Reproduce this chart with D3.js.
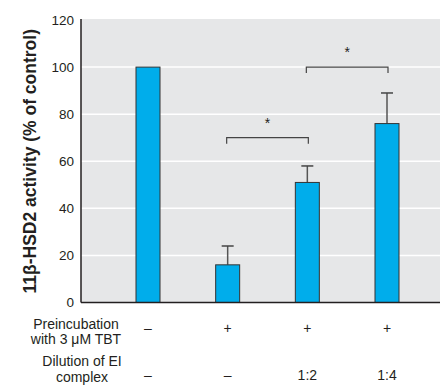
<!DOCTYPE html>
<html>
<head>
<meta charset="utf-8">
<title>11b-HSD2 activity</title>
<script src="https://cdn.jsdelivr.net/npm/d3@7"></script>
<style>
  body { margin: 0; background: #fff; }
  svg text { font-family: "Liberation Sans Narrow", "Arial Narrow", "Liberation Sans", sans-serif; fill: #231f20; }
  .ylab { font-weight: bold; font-size: 17.5px; }
</style>
</head>
<body>
<div id="chart"></div>
<script>
// chart values
var groups = ["ctrl", "tbt", "d12", "d14"];
var activity = [100, 16, 51, 76];
var errUp = [null, 24, 58, 89];
var preincubation = ["–", "+", "+", "+"];
var dilution = ["–", "–", "1:2", "1:4"];
var yTicks = [0, 20, 40, 60, 80, 100, 120];
// significance brackets: [from group, to group, level]
var brackets = [["tbt", "d12", 70], ["d12", "d14", 100]];

var width = 440, height = 389;
var mLeft = 81, mTop = 20, mBottom = 302.5;

var svg = d3.select("#chart").append("svg")
    .attr("width", width)
    .attr("height", height);

var y = d3.scaleLinear().domain([0, 120]).range([mBottom, mTop]);
var x = d3.scalePoint().domain(groups).range([148, 387]);
var barW = 24;

// plot background
svg.append("rect")
    .attr("x", mLeft).attr("y", y(120) - 1)
    .attr("width", width - mLeft).attr("height", mBottom - y(120) + 1)
    .attr("fill", "#e6e7e8");

// grid lines
svg.selectAll(".grid")
    .data(yTicks.filter(function (d) { return d > 0 && d < 120; }))
    .enter().append("line")
    .attr("x1", mLeft).attr("x2", width)
    .attr("y1", function (d) { return y(d); })
    .attr("y2", function (d) { return y(d); })
    .attr("stroke", "#fff")
    .attr("stroke-width", 1.5);

// y axis labels
var yAxis = d3.axisLeft(y).tickValues(yTicks).tickSize(0).tickPadding(7);
var yg = svg.append("g").attr("transform", "translate(" + mLeft + ",0)").call(yAxis);
yg.select(".domain").remove();
yg.selectAll("text").style("font-size", "13.5px").attr("fill", "#231f20");

// error bars
var eb = svg.selectAll(".err")
    .data(groups.map(function (g, i) { return {g: g, v: activity[i], e: errUp[i]}; })
        .filter(function (d) { return d.e != null; }))
    .enter().append("g");
eb.append("line")
    .attr("x1", function (d) { return x(d.g); })
    .attr("x2", function (d) { return x(d.g); })
    .attr("y1", function (d) { return y(d.v); })
    .attr("y2", function (d) { return y(d.e); })
    .attr("stroke", "#555").attr("stroke-width", 1.5);
eb.append("line")
    .attr("x1", function (d) { return x(d.g) - 6; })
    .attr("x2", function (d) { return x(d.g) + 6; })
    .attr("y1", function (d) { return y(d.e); })
    .attr("y2", function (d) { return y(d.e); })
    .attr("stroke", "#444").attr("stroke-width", 1.5);

// bars
svg.selectAll(".bar")
    .data(groups)
    .enter().append("rect")
    .attr("x", function (d) { return x(d) - barW / 2; })
    .attr("width", barW)
    .attr("y", function (d, i) { return y(activity[i]); })
    .attr("height", function (d, i) { return mBottom - y(activity[i]); })
    .attr("fill", "#00adeb")
    .attr("stroke", "#333")
    .attr("stroke-width", 1);

// axes lines
svg.append("line")
    .attr("x1", mLeft).attr("x2", mLeft)
    .attr("y1", y(120) - 1).attr("y2", mBottom)
    .attr("stroke", "#231f20").attr("stroke-width", 1.5);
svg.append("line")
    .attr("x1", mLeft).attr("x2", width)
    .attr("y1", mBottom).attr("y2", mBottom)
    .attr("stroke", "#231f20").attr("stroke-width", 1.5);

// significance brackets
brackets.forEach(function (b) {
    var x1 = x(b[0]) - 1, x2 = x(b[1]) + 1, yy = y(b[2]);
    svg.append("path")
        .attr("d", "M" + x1 + "," + (yy + 6) + "V" + yy + "H" + x2 + "V" + (yy + 6))
        .attr("fill", "none")
        .attr("stroke", "#444")
        .attr("stroke-width", 1.2);
    svg.append("text")
        .attr("x", (x1 + x2) / 2)
        .attr("y", yy - 10)
        .attr("text-anchor", "middle")
        .style("font-size", "14px")
        .attr("fill", "#555")
        .text("*");
});

// y axis title
svg.append("text")
    .attr("class", "ylab")
    .attr("transform", "translate(36," + ((mTop + mBottom) / 2) + ") rotate(-90)")
    .attr("text-anchor", "middle")
    .text("11β-HSD2 activity (% of control)");

// row labels under the axis
var rowText = svg.append("g").style("font-size", "14px").attr("text-anchor", "middle");
rowText.append("text").attr("x", 76).attr("y", 329).text("Preincubation");
rowText.append("text").attr("x", 76).attr("y", 344).text("with 3 μM TBT");
rowText.append("text").attr("x", 82).attr("y", 366).text("Dilution of EI");
rowText.append("text").attr("x", 82).attr("y", 382).text("complex");

svg.selectAll(".pre")
    .data(preincubation)
    .enter().append("text")
    .attr("x", function (d, i) { return x(groups[i]); })
    .attr("y", 333)
    .attr("text-anchor", "middle")
    .style("font-size", "14px")
    .text(function (d) { return d; });

svg.selectAll(".dil")
    .data(dilution)
    .enter().append("text")
    .attr("x", function (d, i) { return x(groups[i]); })
    .attr("y", 380)
    .attr("text-anchor", "middle")
    .style("font-size", "14px")
    .text(function (d) { return d; });
</script>
</body>
</html>
